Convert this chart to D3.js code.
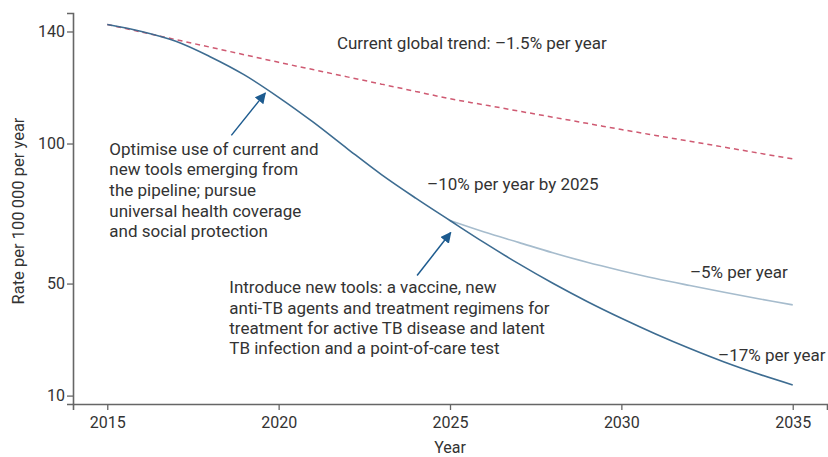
<!DOCTYPE html>
<html>
<head>
<meta charset="utf-8">
<script src="https://cdn.jsdelivr.net/npm/d3@7"></script>
<style>
  html, body { margin: 0; padding: 0; background: #fff; }
  svg { display: block; }
  text { font-family: Roboto, "Noto Sans", sans-serif; fill: #333; }
</style>
</head>
<body>
<svg id="chart" width="828" height="457"></svg>
<script>
// ---- data ----
const years = [2015, 2016, 2017, 2018, 2019, 2020, 2021, 2022, 2023, 2024, 2025,
               2026, 2027, 2028, 2029, 2030, 2031, 2032, 2033, 2034, 2035];
const currentTrend = [142.5, 139.8, 137.1, 134.4, 131.7, 129.0, 126.4, 123.8, 121.2, 118.6, 116.0,
                      113.8, 111.6, 109.4, 107.2, 105.0, 102.9, 100.8, 98.7, 96.6, 94.5];
const fastTrack = [142.5, 140.0, 136.5, 131.0, 124.5, 116.5, 107.7, 98.2, 88.9, 80.5, 72.5,
                   64.6, 57.1, 50.1, 43.6, 37.6, 32.0, 26.8, 22.0, 17.7, 13.8];
const branchYears = [2025, 2026, 2027, 2028, 2029, 2030, 2031, 2032, 2033, 2034, 2035];
const slowBranch = [72.5, 68.4, 64.7, 61.0, 57.6, 54.6, 51.8, 49.3, 46.9, 44.6, 42.4];

const xTicks = [2015, 2020, 2025, 2030, 2035];
const yTicks = [10, 50, 100, 140];

const labelCurrent = "Current global trend: \u20131.5% per year";
const labelOptimise = ["Optimise use of current and", "new tools emerging from",
                       "the pipeline; pursue", "universal health coverage",
                       "and social protection"];
const labelTen = "\u201310% per year by 2025";
const labelIntroduce = ["Introduce new tools: a vaccine, new",
                        "anti-TB agents and treatment regimens for",
                        "treatment for active TB disease and latent",
                        "TB infection and a point-of-care test"];
const labelFive = "\u20135% per year";
const labelSeventeen = "\u201317% per year";
const yTitle = "Rate per 100\u2009000 per year";
const xTitle = "Year";

// annotation anchors (data units)
const arrowOptimise = [[2018.62, 102.9], [2019.61, 118.0]];
const arrowIntroduce = [[2024.04, 52.9], [2025.02, 68.2]];

// ---- layout ----
const svg = d3.select("#chart");
const W = 828, H = 457;
const m = { left: 73, right: 1, top: 13, bottom: 53 };

const x = d3.scaleLinear().domain([2014, 2036]).range([m.left, W - m.right]);
const y = d3.scaleLinear().domain([7.0, 146.6]).range([H - m.bottom, m.top]);

const FS = 17;
const TFS = 16;
const axisColor = "#666";

// axes
const gx = svg.append("g").attr("transform", `translate(0,${H - m.bottom})`)
  .call(d3.axisBottom(x).tickValues(xTicks).tickFormat(d3.format("d"))
        .tickSizeOuter(0).tickSize(6).tickPadding(7));
const gy = svg.append("g").attr("transform", `translate(${m.left},0)`)
  .call(d3.axisLeft(y).tickValues(yTicks).tickSizeOuter(0).tickSize(6).tickPadding(2));
[gx, gy].forEach(g => {
  g.select(".domain").attr("stroke", axisColor).attr("stroke-width", 1.6);
  g.selectAll(".tick line").attr("stroke", axisColor).attr("stroke-width", 1.3);
  g.selectAll(".tick text").attr("fill", "#444").style("font-size", TFS + "px")
    .style("font-family", "Roboto, sans-serif");
});

// axis titles
svg.append("text").attr("x", x(2025)).attr("y", 453)
  .attr("text-anchor", "middle").style("font-size", TFS + "px").text(xTitle);
svg.append("text").attr("transform", `translate(18,${211}) rotate(-90)`)
  .attr("dy", "0.35em").attr("text-anchor", "middle").style("font-size", "16.5px").text(yTitle);

// lines
const line = d3.line().curve(d3.curveCatmullRom.alpha(0.5)).x(d => x(d[0])).y(d => y(d[1]));

svg.append("path").datum(years.map((t, i) => [t, currentTrend[i]]))
  .attr("d", line).attr("fill", "none").attr("stroke", "#cf5a72")
  .attr("stroke-width", 1.5).attr("stroke-dasharray", "5,4");

svg.append("path").datum(branchYears.map((t, i) => [t, slowBranch[i]]))
  .attr("d", line).attr("fill", "none").attr("stroke", "#a6bccd").attr("stroke-width", 1.6);

svg.append("path").datum(years.map((t, i) => [t, fastTrack[i]]))
  .attr("d", line).attr("fill", "none").attr("stroke", "#3d6c91").attr("stroke-width", 1.6);

// arrows
const defs = svg.append("defs");
defs.append("marker").attr("id", "ah").attr("viewBox", "0 0 10 10")
  .attr("refX", 9).attr("refY", 5).attr("markerWidth", 11).attr("markerHeight", 11)
  .attr("markerUnits", "userSpaceOnUse").attr("orient", "auto")
  .append("path").attr("d", "M0,0 L10,5 L0,10 Z").attr("fill", "#1d5b8f");

[arrowOptimise, arrowIntroduce].forEach(a => {
  svg.append("line")
    .attr("x1", x(a[0][0])).attr("y1", y(a[0][1]))
    .attr("x2", x(a[1][0])).attr("y2", y(a[1][1]))
    .attr("stroke", "#1d5b8f").attr("stroke-width", 1.5).attr("marker-end", "url(#ah)");
});

// text annotations
function block(lines, xv, yv, spacing) {
  const t = svg.append("text").attr("x", x(xv)).attr("y", y(yv)).style("font-size", FS + "px");
  lines.forEach((s, i) => {
    t.append("tspan").attr("x", x(xv)).attr("y", y(yv) + i * spacing).attr("dy", "0.35em").text(s);
  });
}
block([labelCurrent], 2021.70, 135.8, 0);
block(labelOptimise, 2015.06, 98.2, 20.7);
block([labelTen], 2024.33, 85.4, 0);
block(labelIntroduce, 2018.56, 48.7, 20.35);
block([labelFive], 2032.0, 54.1, 0);
block([labelSeventeen], 2032.82, 24.3, 0);
</script>
</body>
</html>
